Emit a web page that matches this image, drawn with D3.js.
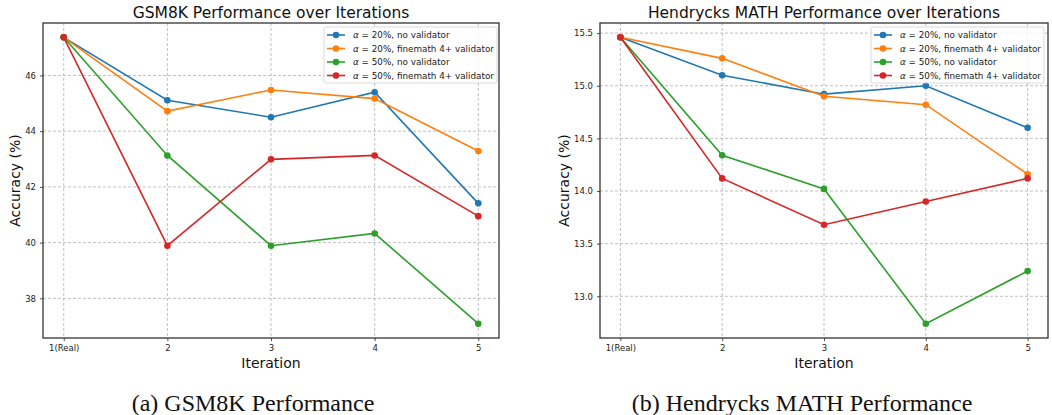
<!DOCTYPE html>
<html>
<head>
<meta charset="utf-8">
<script src="https://cdn.jsdelivr.net/npm/d3@7"></script>
<style>
  body { margin: 0; background: #fff; }
  svg { display: block; font-family: "DejaVu Sans", sans-serif; }
  .grid line { stroke: #b0b0b0; stroke-width: 0.8; stroke-dasharray: 3,2; }
  .tick text { fill: #222; font-size: 8.5px; }
  .caption { font-family: "Liberation Serif", "Times New Roman", serif; font-size: 24px; fill: #111; }
</style>
</head>
<body>
<svg id="chart" width="1052" height="415"></svg>
<script>
// x 카테고리
const iterations = ["1(Real)", "2", "3", "4", "5"];
const seriesNames = [
    ["20%", "no validator"],
    ["20%", "finemath 4+ validator"],
    ["50%", "no validator"],
    ["50%", "finemath 4+ validator"]
];
const colors = ["#1f77b4", "#ff7f0e", "#2ca02c", "#d62728"];

// GSM8K
const gsmA20None = [47.37, 45.11, 44.50, 45.40, 41.41];
const gsmA20Fine = [47.37, 44.72, 45.48, 45.17, 43.29];
const gsmA50None = [47.37, 43.13, 39.89, 40.33, 37.09];
const gsmA50Fine = [47.37, 39.89, 42.99, 43.13, 40.95];
const gsmTicks = [38, 40, 42, 44, 46];

// Hendrycks MATH
const mathA20None = [15.46, 15.10, 14.92, 15.00, 14.60];
const mathA20Fine = [15.46, 15.26, 14.90, 14.82, 14.16];
const mathA50None = [15.46, 14.34, 14.02, 12.74, 13.24];
const mathA50Fine = [15.46, 14.12, 13.68, 13.90, 14.12];
const mathTicks = [13.0, 13.5, 14.0, 14.5, 15.0, 15.5];

const panels = [
    {
        title: "GSM8K Performance over Iterations",
        caption: "(a) GSM8K Performance",
        series: [gsmA20None, gsmA20Fine, gsmA50None, gsmA50Fine],
        ticks: gsmTicks, fmt: d3.format("d"),
        left: 43, right: 499, top: 23, bottom: 338,
        ylabelX: 20, legendX: 324, captionX: 253
    },
    {
        title: "Hendrycks MATH Performance over Iterations",
        caption: "(b) Hendrycks MATH Performance",
        series: [mathA20None, mathA20Fine, mathA50None, mathA50Fine],
        ticks: mathTicks, fmt: d3.format(".1f"),
        left: 600, right: 1048, top: 23, bottom: 338,
        ylabelX: 569, legendX: 871, captionX: 802
    }
];

const svg = d3.select("#chart");

panels.forEach(p => {
    const g = svg.append("g");
    const xIdx = d3.range(iterations.length);

    // matplotlib 기본 5% 여백
    const x = d3.scaleLinear().domain([-0.2, iterations.length - 0.8]).range([p.left, p.right]);
    const all = p.series.flat();
    const lo = d3.min(all), hi = d3.max(all), pad = (hi - lo) * 0.05;
    const y = d3.scaleLinear().domain([lo - pad, hi + pad]).range([p.bottom, p.top]);

    // 그리드
    const grid = g.append("g").attr("class", "grid");
    grid.selectAll(".gx").data(xIdx).join("line")
        .attr("x1", d => x(d)).attr("x2", d => x(d))
        .attr("y1", p.top).attr("y2", p.bottom);
    grid.selectAll(".gy").data(p.ticks).join("line")
        .attr("x1", p.left).attr("x2", p.right)
        .attr("y1", d => y(d)).attr("y2", d => y(d));

    // 축
    const xAxis = g.append("g")
        .attr("transform", `translate(0,${p.bottom})`)
        .call(d3.axisBottom(x).tickValues(xIdx).tickFormat(i => iterations[i]).tickSize(3).tickPadding(4));
    const yAxis = g.append("g")
        .attr("transform", `translate(${p.left},0)`)
        .call(d3.axisLeft(y).tickValues(p.ticks).tickFormat(p.fmt).tickSize(3).tickPadding(4));
    [xAxis, yAxis].forEach(a => {
        a.select(".domain").remove();
        a.selectAll(".tick line").attr("stroke", "#222").attr("stroke-width", 0.8);
        a.selectAll(".tick text").attr("font-family", "DejaVu Sans");
    });

    // 선 + 마커
    const line = d3.line().x((d, i) => x(i)).y(d => y(d));
    p.series.forEach((s, k) => {
        g.append("path").datum(s)
            .attr("fill", "none").attr("stroke", colors[k]).attr("stroke-width", 1.6)
            .attr("d", line);
        g.selectAll(null).data(s).join("circle")
            .attr("cx", (d, i) => x(i)).attr("cy", d => y(d)).attr("r", 3.3)
            .attr("fill", colors[k]);
    });

    // 프레임
    g.append("rect")
        .attr("x", p.left).attr("y", p.top)
        .attr("width", p.right - p.left).attr("height", p.bottom - p.top)
        .attr("fill", "none").attr("stroke", "#333").attr("stroke-width", 1.3);

    // 범례
    const lg = g.append("g").attr("transform", `translate(${p.legendX},27)`);
    lg.append("rect").attr("width", 173).attr("height", 56).attr("rx", 2)
        .attr("fill", "rgba(255,255,255,0.8)").attr("stroke", "#d0d0d0").attr("stroke-width", 0.8);
    seriesNames.forEach((n, k) => {
        const yy = 8 + k * 13.5;
        lg.append("line").attr("x1", 3).attr("x2", 21).attr("y1", yy).attr("y2", yy)
            .attr("stroke", colors[k]).attr("stroke-width", 1.6);
        lg.append("circle").attr("cx", 12).attr("cy", yy).attr("r", 3.3).attr("fill", colors[k]);
        const t = lg.append("text").attr("x", 29).attr("y", yy + 3.2)
            .attr("font-size", 8.8).attr("fill", "#222");
        t.append("tspan").attr("font-style", "italic").text("α");
        t.append("tspan").text(` = ${n[0]}, ${n[1]}`);
    });

    // 제목, 축 라벨
    g.append("text").attr("x", (p.left + p.right) / 2).attr("y", 18)
        .attr("text-anchor", "middle").attr("font-size", 15.5).attr("fill", "#111").text(p.title);
    g.append("text").attr("x", (p.left + p.right) / 2).attr("y", 368)
        .attr("text-anchor", "middle").attr("font-size", 14).attr("fill", "#111").text("Iteration");
    g.append("text")
        .attr("transform", `translate(${p.ylabelX},${(p.top + p.bottom) / 2}) rotate(-90)`)
        .attr("text-anchor", "middle").attr("font-size", 14).attr("fill", "#111").text("Accuracy (%)");

    g.append("text").attr("class", "caption").attr("x", p.captionX).attr("y", 411)
        .attr("text-anchor", "middle").text(p.caption);
});
</script>
</body>
</html>
